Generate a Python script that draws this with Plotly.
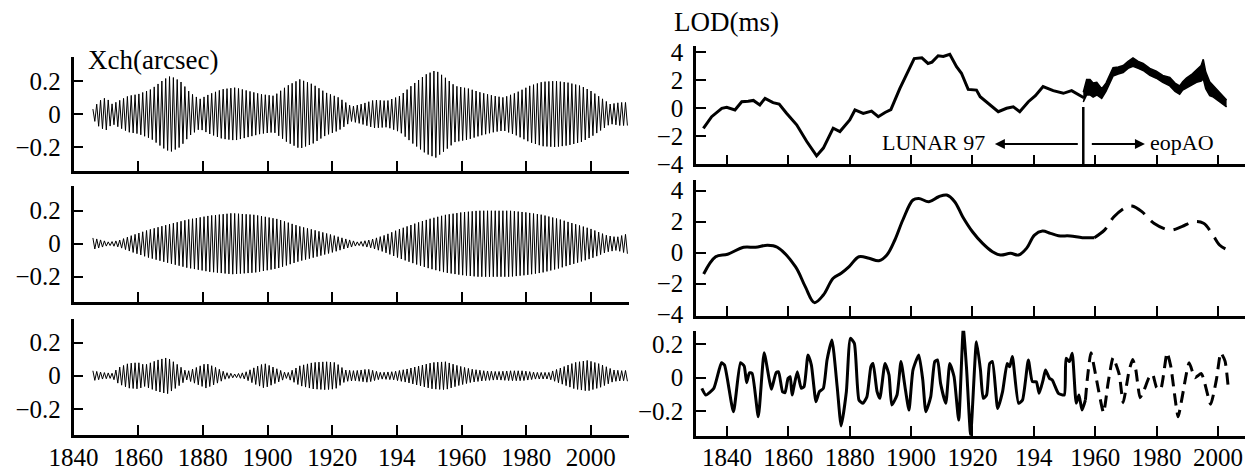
import numpy as np
import plotly.graph_objects as go

# ---------------- data ----------------
# Left column: Chandler wobble components Xch (arcsec).
# Envelope (amplitude); carrier = Chandler period.
CHANDLER_PERIOD = 1.185
XCH_START, XCH_END = 1846.0, 2011.6

env1_years = [1846, 1848, 1850, 1852, 1854, 1857, 1860, 1864, 1868, 1870, 1873, 1876, 1879,
              1882, 1886, 1890, 1894, 1898, 1902, 1906, 1910, 1914, 1918, 1922, 1926, 1929,
              1933, 1937, 1941, 1945, 1949, 1952, 1955, 1958, 1962, 1966, 1970, 1973, 1977,
              1981, 1985, 1989, 1993, 1997, 2000, 2003, 2006, 2009, 2012]
env1_amp = [0.03, 0.08, 0.10, 0.06, 0.08, 0.11, 0.12, 0.15, 0.21, 0.23, 0.20, 0.13, 0.09,
            0.12, 0.15, 0.16, 0.14, 0.12, 0.11, 0.17, 0.21, 0.18, 0.13, 0.10, 0.045, 0.06,
            0.085, 0.08, 0.11, 0.18, 0.24, 0.265, 0.22, 0.17, 0.155, 0.13, 0.11, 0.10, 0.13,
            0.17, 0.195, 0.20, 0.19, 0.17, 0.14, 0.10, 0.06, 0.07, 0.07]

env2_years = [1846, 1849, 1851, 1854, 1858, 1863, 1868, 1875, 1882, 1889, 1896, 1903, 1910,
              1915, 1920, 1924, 1928, 1932, 1936, 1941, 1946, 1950, 1955, 1960, 1965, 1970,
              1975, 1980, 1985, 1990, 1995, 2000, 2005, 2008, 2012]
env2_amp = [0.035, 0.02, 0.01, 0.02, 0.05, 0.083, 0.11, 0.145, 0.17, 0.185, 0.175, 0.15, 0.105,
            0.08, 0.053, 0.03, 0.01, 0.025, 0.05, 0.09, 0.125, 0.15, 0.175, 0.19, 0.20, 0.20,
            0.20, 0.19, 0.175, 0.15, 0.12, 0.09, 0.05, 0.04, 0.065]

env3_years = [1846, 1849, 1852, 1854, 1857, 1860, 1862, 1866, 1869, 1872, 1875, 1878, 1881,
              1884, 1887, 1890, 1893, 1896, 1899, 1902, 1906, 1910, 1914, 1918, 1921, 1924,
              1927, 1931, 1935, 1939, 1943, 1947, 1951, 1955, 1959, 1963, 1967, 1971, 1975,
              1979, 1983, 1987, 1991, 1995, 1999, 2003, 2007, 2010, 2012]
env3_amp = [0.03, 0.02, 0.015, 0.05, 0.075, 0.08, 0.065, 0.095, 0.11, 0.07, 0.025, 0.05, 0.075,
            0.05, 0.02, 0.01, 0.02, 0.05, 0.075, 0.05, 0.015, 0.06, 0.08, 0.085, 0.08, 0.035,
            0.03, 0.04, 0.02, 0.025, 0.04, 0.06, 0.08, 0.085, 0.06, 0.04, 0.03, 0.025, 0.03,
            0.03, 0.02, 0.02, 0.05, 0.08, 0.093, 0.07, 0.035, 0.03, 0.035]

# Right column, row 1: LOD (ms), LUNAR 97 series
lunar_years = [1832.3, 1835.0, 1838.3, 1839.9, 1842.6, 1844.8, 1846.9, 1848.6, 1850.7, 1852.4,
               1855.0, 1857.0, 1859.4, 1862.7, 1866.0, 1869.2, 1871.4, 1874.6, 1876.8, 1880.0,
               1881.7, 1884.4, 1887.1, 1889.3, 1891.5, 1893.4, 1896.3, 1898.5, 1901.0, 1903.5,
               1905.5, 1906.8, 1908.8, 1910.5, 1912.6, 1914.8, 1916.4, 1918.6, 1921.3, 1922.5,
               1924.6, 1928.4, 1931.1, 1933.3, 1935.4, 1938.2, 1940.5, 1943.0, 1946.3, 1949.6,
               1952.3, 1955.0, 1956.3]
lunar_lod = [-1.43, -0.6, 0.0, 0.07, -0.12, 0.47, 0.5, 0.56, 0.24, 0.71,
             0.4, 0.3, -0.35, -1.18, -2.37, -3.4, -2.84, -1.42, -1.66, -0.83,
             -0.12, -0.36, -0.2, -0.6, -0.3, -0.1, 1.4, 2.4, 3.55, 3.6,
             3.2, 3.3, 3.75, 3.7, 3.85, 2.97, 2.5, 1.35, 1.3, 0.83,
             0.47, -0.24, 0.0, 0.11, -0.24, 0.47, 0.9, 1.55, 1.26, 1.07,
             1.26, 0.95, 0.75]

# Right column, row 1: eopAO series (centre of the noisy band and its half width)
eop_years = [1956.1, 1957.2, 1958.3, 1959.3, 1960.5, 1962.1, 1963.5, 1965.8, 1967.5, 1969.1,
             1970.7, 1972.3, 1974.0, 1975.6, 1977.8, 1979.9, 1982.0, 1984.3, 1986.0, 1987.5,
             1988.5, 1989.7, 1991.3, 1993.0, 1994.5, 1995.2, 1996.0, 1997.3, 1998.5, 2000.0,
             2001.5, 2002.8]
eop_lod = [0.8, 1.5, 1.5, 1.3, 1.4, 1.05, 1.5, 2.6, 2.7, 2.8,
           3.1, 3.3, 3.1, 2.95, 2.6, 2.4, 2.1, 1.9, 1.5, 1.3,
           1.6, 1.8, 2.0, 2.3, 2.5, 2.8, 2.0, 1.4, 1.2, 0.9,
           0.6, 0.35]
eop_halfwidth = [0.35, 0.55, 0.55, 0.5, 0.45, 0.35, 0.3, 0.3, 0.25, 0.25,
                 0.25, 0.3, 0.25, 0.25, 0.25, 0.25, 0.25, 0.3, 0.3, 0.3,
                 0.3, 0.35, 0.4, 0.45, 0.55, 0.7, 0.6, 0.5, 0.4, 0.35,
                 0.3, 0.25]

# Right column, row 2: smoothed LOD (ms)
smooth_years = [1832.4, 1836.3, 1840.2, 1845.4, 1849.3, 1853.2, 1856.4, 1862.3, 1865.5, 1868.5,
                1871.4, 1874.6, 1877.2, 1879.8, 1883.0, 1886.3, 1889.5, 1892.1, 1894.7, 1897.3,
                1900.6, 1902.5, 1905.8, 1909.0, 1911.6, 1914.2, 1916.8, 1920.0, 1923.3, 1926.5,
                1929.1, 1932.4, 1935.0, 1937.6, 1940.2, 1942.8, 1945.4, 1948.0, 1951.9, 1955.8,
                1959.7]
smooth_lod = [-1.37, -0.26, -0.1, 0.35, 0.35, 0.48, 0.35, -0.9, -2.19, -3.22,
              -2.73, -1.65, -1.33, -0.9, -0.26, -0.36, -0.52, -0.15, 0.82, 2.11,
              3.4, 3.5, 3.29, 3.61, 3.72, 3.29, 2.32, 1.35, 0.6, 0.06,
              -0.15, -0.04, -0.15, 0.28, 1.14, 1.4, 1.25, 1.1, 1.08, 0.97,
              0.97]
smooth_eop_years = [1959.7, 1963.0, 1966.1, 1970.0, 1972.0, 1975.2, 1979.1, 1984.3, 1988.2,
                    1992.0, 1995.3, 1998.0, 2000.5, 2002.5]
smooth_eop_lod = [0.97, 1.46, 2.32, 2.93, 3.01, 2.65, 1.9, 1.46, 1.68,
                  2.0, 1.9, 1.25, 0.5, 0.24]

# Right column, row 3: high-frequency LOD residual (ms)
hf_years = [1831.8, 1833.1, 1835.7, 1838.2, 1839.2, 1842.1, 1844.4, 1845.6, 1846.4, 1847.3,
            1848.2, 1850.2, 1852.1, 1853.8, 1854.5, 1856.0, 1856.8, 1858.1, 1858.9, 1859.9,
            1860.6, 1861.2, 1862.9, 1864.2, 1865.1, 1866.4, 1867.5, 1869.0, 1870.1, 1871.4,
            1872.6, 1874.2, 1875.9, 1877.2, 1878.9, 1880.2, 1881.5, 1883.0, 1884.3, 1885.6,
            1886.9, 1887.6, 1888.9, 1889.8, 1891.5, 1892.8, 1893.7, 1895.4, 1896.7, 1898.0,
            1899.3, 1900.6, 1902.5, 1903.8, 1904.8, 1906.4, 1907.7, 1908.6, 1909.6, 1911.3,
            1912.6, 1914.0, 1915.5, 1917.0, 1918.1, 1919.4, 1921.3, 1922.6, 1923.5, 1924.6,
            1925.6, 1926.5, 1928.2, 1929.8, 1931.3, 1932.1, 1933.0, 1935.0, 1936.3, 1938.2,
            1939.5, 1940.8, 1941.7, 1943.0, 1943.8, 1945.1, 1946.0, 1948.0, 1949.9, 1950.5,
            1951.6, 1952.5, 1953.8, 1954.7, 1955.7, 1956.8]
hf_lod = [-0.064, -0.104, -0.064, 0.09, 0.076, -0.205, 0.09, 0.07, -0.03, 0.03,
          0.026, -0.235, 0.15, -0.014, -0.07, 0.03, 0.036, -0.084, -0.09, -0.004,
          0.006, -0.104, 0.036, -0.064, -0.054, 0.137, 0.076, -0.144, -0.084, -0.064,
          0.107, 0.227, -0.054, -0.29, -0.084, 0.237, 0.207, -0.134, -0.154, -0.114,
          0.067, 0.086, -0.084, -0.124, 0.086, 0.016, -0.164, -0.104, 0.097, -0.054,
          -0.195, 0.046, 0.137, -0.014, -0.205, -0.114, 0.097, 0.107, -0.034, -0.154,
          0.086, 0.006, -0.255, 0.297, 0.046, -0.345, 0.217, 0.046, -0.124, -0.104,
          0.086, 0.097, -0.185, -0.084, 0.086, 0.066, 0.127, -0.154, -0.134, 0.107,
          -0.024, -0.024, -0.094, -0.014, 0.046, -0.004, -0.014, -0.094, -0.104, 0.117,
          0.097, 0.147, -0.154, -0.104, -0.195, -0.134]
hf_eop_years = [1956.8, 1957.4, 1958.6, 1960.4, 1962.7, 1964.2, 1965.8, 1967.8, 1969.1, 1971.0,
                1972.2, 1973.2, 1974.6, 1975.8, 1977.5, 1978.7, 1980.0, 1981.3, 1983.4, 1984.6,
                1987.0, 1988.3, 1990.6, 1992.5, 1994.6, 1997.6, 1999.5, 2000.9, 2002.3, 2003.4]
hf_eop_lod = [-0.134, -0.01, 0.15, -0.01, -0.21, -0.03, 0.12, 0.02, -0.15, 0.04,
              0.11, 0.05, -0.12, -0.08, 0.0, 0.02, -0.06, -0.07, 0.15, 0.07,
              -0.235, -0.12, 0.09, 0.0, 0.025, -0.16, -0.01, 0.15, 0.10, -0.07]

x_tick_vals = [1840, 1860, 1880, 1900, 1920, 1940, 1960, 1980, 2000]
x_tick_text = ["1840", "1860", "1880", "1900", "1920", "194", "1960", "1980", "2000"]
xch_tick_vals = [-0.2, 0, 0.2]
xch_tick_text = ["\u22120.2", "0", "0.2"]
lod_tick_vals = [-4, -2, 0, 2, 4]
lod_tick_text = ["\u22124", "\u22122", "0", "2", "4"]
hf_tick_vals = [-0.2, 0, 0.2]
hf_tick_text = ["\u22120.2", "0", "0.2"]

# ---------------- figure ----------------
W, H = 1245, 474
FONT = "Liberation Serif"


def py(p):
    return 1 - p / H


def chandler(env_years, env_amp):
    t = np.arange(XCH_START, XCH_END, CHANDLER_PERIOD / 2)
    sign = np.where(np.arange(len(t)) % 2 == 0, 1.0, -1.0)
    return t, sign * np.interp(t, env_years, env_amp)


fig = go.Figure()

for i, (ey, ea) in enumerate([(env1_years, env1_amp), (env2_years, env2_amp), (env3_years, env3_amp)]):
    t, v = chandler(ey, ea)
    fig.add_trace(go.Scatter(x=t, y=v, mode="lines", line=dict(color="black", width=1),
                             xaxis="x" if i == 0 else f"x{i+1}", yaxis="y" if i == 0 else f"y{i+1}",
                             showlegend=False, hoverinfo="skip"))

# row 1 right
fig.add_trace(go.Scatter(x=lunar_years, y=lunar_lod, mode="lines",
                         line=dict(color="black", width=3), xaxis="x4", yaxis="y4", showlegend=False))
eop_c = np.array(eop_lod)
eop_h = np.array(eop_halfwidth)
fig.add_trace(go.Scatter(x=eop_years, y=eop_c - eop_h, mode="lines", line=dict(color="black", width=1.5),
                         xaxis="x4", yaxis="y4", showlegend=False))
fig.add_trace(go.Scatter(x=eop_years, y=eop_c + eop_h, mode="lines", line=dict(color="black", width=1.5),
                         fill="tonexty", fillcolor="black", xaxis="x4", yaxis="y4", showlegend=False))

# row 2 right
fig.add_trace(go.Scatter(x=smooth_years, y=smooth_lod, mode="lines", line=dict(color="black", width=3, shape="spline", smoothing=1),
                         xaxis="x5", yaxis="y5", showlegend=False))
fig.add_trace(go.Scatter(x=smooth_eop_years, y=smooth_eop_lod, mode="lines",
                         line=dict(color="black", width=3, shape="spline", smoothing=1, dash="16px,9px"),
                         xaxis="x5", yaxis="y5", showlegend=False))

# row 3 right
fig.add_trace(go.Scatter(x=hf_years, y=hf_lod, mode="lines", line=dict(color="black", width=3, shape="spline", smoothing=0.5),
                         xaxis="x6", yaxis="y6", showlegend=False))
fig.add_trace(go.Scatter(x=hf_eop_years, y=hf_eop_lod, mode="lines",
                         line=dict(color="black", width=3, shape="spline", smoothing=0.5, dash="12px,7px"),
                         xaxis="x6", yaxis="y6", showlegend=False))

tickfont = dict(family=FONT, size=25, color="black")


def xaxis(domain, rng, anchor, labels):
    return dict(domain=domain, range=rng, anchor=anchor, showline=True, linecolor="black", linewidth=2.5,
                ticks="inside", ticklen=10, tickwidth=2, tickcolor="black", showgrid=False, zeroline=False,
                tickvals=x_tick_vals, ticktext=x_tick_text, showticklabels=labels, tickfont=tickfont,
                ticklabelstandoff=-2, automargin=False)


def yaxis(domain, rng, anchor, vals, text):
    return dict(domain=domain, range=rng, anchor=anchor, showline=True, linecolor="black", linewidth=2.5,
                ticks="inside", ticklen=10, tickwidth=2, tickcolor="black", showgrid=False, zeroline=False,
                tickvals=vals, ticktext=text, tickfont=tickfont, ticklabelstandoff=5, automargin=False)


LX = [73.5 / W, 629 / W]
RX = [696 / W, 1.0]
L_RANGE = [1840, 2011.8]
R_RANGE = [1829.9, 2008.8]

fig.update_layout(
    width=W, height=H, margin=dict(l=0, r=0, t=0, b=0, pad=0, autoexpand=False),
    paper_bgcolor="white", plot_bgcolor="white", showlegend=False,
    xaxis=xaxis(LX, L_RANGE, "y", False),
    yaxis=yaxis([py(171), py(57)], [-0.3455, 0.3455], "x", xch_tick_vals, xch_tick_text),
    xaxis2=xaxis(LX, L_RANGE, "y2", False),
    yaxis2=yaxis([py(301.7), py(186)], [-0.3515, 0.35], "x2", xch_tick_vals, xch_tick_text),
    xaxis3=xaxis(LX, L_RANGE, "y3", True),
    yaxis3=yaxis([py(435), py(319)], [-0.359, 0.3436], "x3", xch_tick_vals, xch_tick_text),
    xaxis4=xaxis(RX, R_RANGE, "y4", False),
    yaxis4=yaxis([py(164.3), py(45.7)], [-4.0, 4.47], "x4", lod_tick_vals, lod_tick_text),
    xaxis5=xaxis(RX, R_RANGE, "y5", False),
    yaxis5=yaxis([py(315.5), py(180)], [-4.05, 4.69], "x5", lod_tick_vals, lod_tick_text),
    xaxis6=xaxis(RX, R_RANGE, "y6", True),
    yaxis6=yaxis([py(435.7), py(330.7)], [-0.349, 0.283], "x6", hf_tick_vals, hf_tick_text),
)

# separator line between LUNAR 97 and eopAO
fig.add_shape(type="line", xref="x4", yref="y4", x0=1956.1, x1=1956.1, y0=-4.0, y1=0.1,
              line=dict(color="black", width=2.5))

# arrows
fig.add_annotation(xref="x4", yref="y4", axref="x4", ayref="y4", x=1927.3, y=-2.55, ax=1954.8, ay=-2.55,
                   showarrow=True, arrowhead=2, arrowsize=1, arrowwidth=2, arrowcolor="black", text="")
fig.add_annotation(xref="x4", yref="y4", axref="x4", ayref="y4", x=1976.2, y=-2.55, ax=1958.4, ay=-2.55,
                   showarrow=True, arrowhead=2, arrowsize=1, arrowwidth=2, arrowcolor="black", text="")
fig.add_annotation(xref="x4", yref="y4", x=1907.3, y=-2.45, text="LUNAR 97", showarrow=False,
                   font=dict(family=FONT, size=22, color="black"), xanchor="center", yanchor="middle")
fig.add_annotation(xref="x4", yref="y4", x=1988.2, y=-2.45, text="eopAO", showarrow=False,
                   font=dict(family=FONT, size=22, color="black"), xanchor="center", yanchor="middle")

# axis titles
fig.add_annotation(xref="paper", yref="paper", x=152.5 / W, y=py(60), text="Xch(arcsec)", showarrow=False,
                   font=dict(family=FONT, size=27, color="black"), xanchor="center", yanchor="middle")
fig.add_annotation(xref="paper", yref="paper", x=726 / W, y=py(22), text="LOD(ms)", showarrow=False,
                   font=dict(family=FONT, size=27, color="black"), xanchor="center", yanchor="middle")

fig.write_html("out.html")
